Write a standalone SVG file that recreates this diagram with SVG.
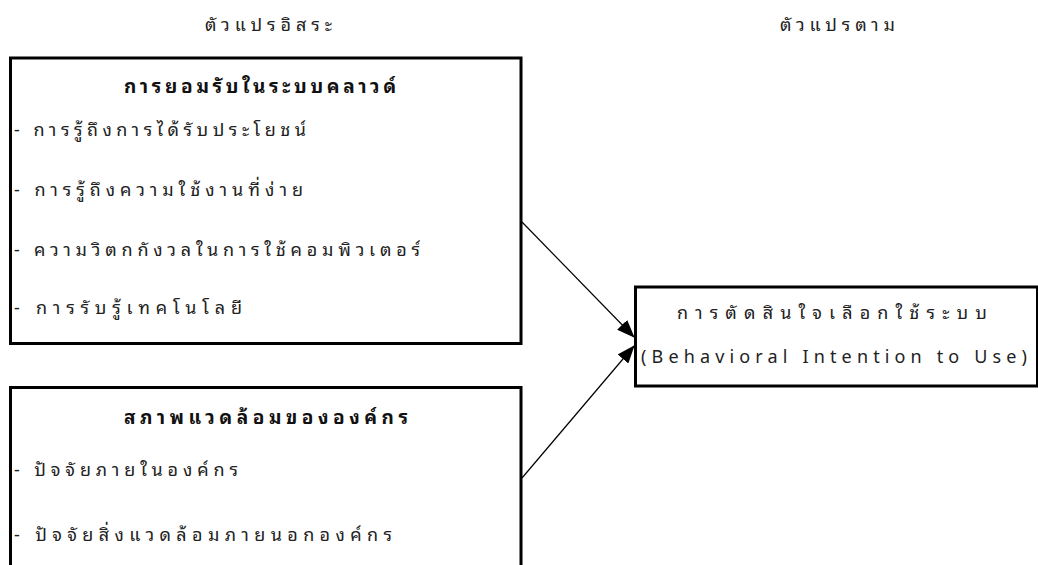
<svg xmlns="http://www.w3.org/2000/svg" width="1038" height="565" viewBox="0 0 1038 565">
<style>
.box{fill:#fff;stroke:#000;stroke-width:3}
.t{font-family:"Noto Sans Thai Looped","Tahoma","Loma","Garuda","Noto Sans Thai","Noto Sans","DejaVu Sans",sans-serif;font-size:18px;fill:#222}
.b{font-weight:bold;font-size:19px;fill:#111}
.conn{stroke:#000;stroke-width:1.2;fill:none}
</style>
<defs>
<marker id="ah" markerWidth="18" markerHeight="14" refX="17" refY="7" orient="auto" markerUnits="userSpaceOnUse">
<path d="M0,0 L18,7 L0,14 Z" fill="#000"/>
</marker>
</defs>
<text class="t" x="205" y="31" textLength="127" lengthAdjust="spacing">ตัวแปรอิสระ</text>
<text class="t" x="780" y="31" textLength="115" lengthAdjust="spacing">ตัวแปรตาม</text>
<g id="n1">
<rect class="box" x="10.5" y="58" width="510.5" height="285.5"/>
<text class="t b" x="124" y="93" textLength="272" lengthAdjust="spacing">การยอมรับในระบบคลาวด์</text>
<text class="t" x="14" y="136" textLength="292" lengthAdjust="spacing">- การรู้ถึงการได้รับประโยชน์</text>
<text class="t" x="14" y="196" textLength="289" lengthAdjust="spacing">- การรู้ถึงความใช้งานที่ง่าย</text>
<text class="t" x="14" y="256" textLength="406" lengthAdjust="spacing">- ความวิตกกังวลในการใช้คอมพิวเตอร์</text>
<text class="t" x="14" y="314" textLength="228" lengthAdjust="spacing">- การรับรู้เทคโนโลยี</text>
</g>
<g id="n2">
<rect class="box" x="10.5" y="387.5" width="510.5" height="200"/>
<text class="t b" x="124" y="424" textLength="284" lengthAdjust="spacing">สภาพแวดล้อมขององค์กร</text>
<text class="t" x="14" y="476" textLength="224" lengthAdjust="spacing">- ปัจจัยภายในองค์กร</text>
<text class="t" x="14" y="541" textLength="378" lengthAdjust="spacing">- ปัจจัยสิ่งแวดล้อมภายนอกองค์กร</text>
</g>
<g id="n3">
<rect class="box" x="635.5" y="287" width="402" height="99"/>
<text class="t" x="677" y="319" textLength="310" lengthAdjust="spacing">การตัดสินใจเลือกใช้ระบบ</text>
<text class="t" x="641" y="363" textLength="386" lengthAdjust="spacing">(Behavioral Intention to Use)</text>
</g>
<g id="connectors">
<line class="conn" x1="522" y1="222" x2="634" y2="337" marker-end="url(#ah)"/>
<line class="conn" x1="522" y1="478" x2="634" y2="346" marker-end="url(#ah)"/>
</g>
</svg>
